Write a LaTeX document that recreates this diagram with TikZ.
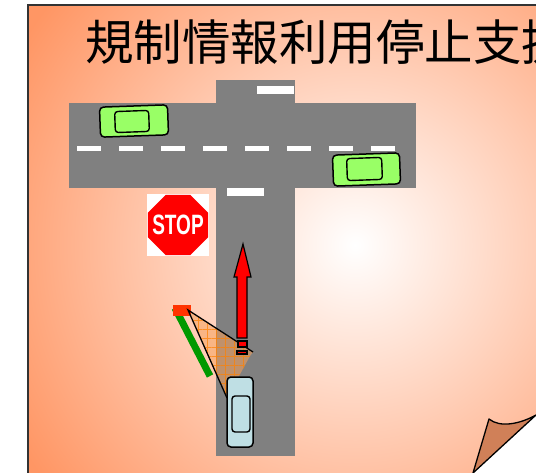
\documentclass[tikz,border=0pt]{standalone}
\usepackage{fontspec}
\newfontfamily\cjk{Noto Sans CJK JP}
\newfontfamily\signfont{Liberation Sans}
\usetikzlibrary{shapes.geometric,patterns.meta}
\definecolor{bgorange}{RGB}{255,150,100}
\definecolor{roadgray}{RGB}{128,128,128}
\definecolor{cargreen}{RGB}{153,255,102}
\definecolor{carblue}{RGB}{191,223,228}
\definecolor{stopred}{RGB}{255,0,0}
\definecolor{sensorred}{RGB}{255,51,0}
\definecolor{polegreen}{RGB}{0,153,0}
\definecolor{conefill}{RGB}{245,160,90}
\definecolor{curlbrown}{RGB}{208,128,88}

\begin{document}
\begin{tikzpicture}[x=1pt, y=-1pt,
    road/.style={fill=roadgray},
    lane/.style={fill=white},
    carbody/.style={draw, line width=1.5pt, rounded corners=4pt, inner sep=0pt},
    carglass/.style={draw, line width=1.4pt, rounded corners=3pt, inner sep=0pt},
    outline/.style={draw, line width=1.2pt}
]
\useasboundingbox (0,0) rectangle (536,473);

% panel with soft glow
\begin{scope}
\clip (28,5) rectangle (545,480);
\fill[bgorange] (28,5) rectangle (545,480);
\shade[inner color=white, outer color=bgorange] (355,245) circle (390pt);
\end{scope}
\draw[line width=1.5pt, black!80] (28,480) -- (28,5) -- (545,5);

\node[font=\cjk\fontsize{48.5}{48.5}\selectfont, anchor=west, inner sep=0pt] (title) at (85,42) {規制情報利用停止支援};

% crossroads
\fill[road] (69,103) rectangle (416,188);
\fill[road] (216,80) rectangle (295,456);
\foreach \x in {77,119,...,371}
    \fill[lane] (\x,146) rectangle ++(24,5);
\fill[lane] (257,86) rectangle (294,94);
\fill[lane] (227,188) rectangle (264,196);

% cars on the main road
\node[carbody, fill=cargreen, minimum width=68pt, minimum height=30pt, rotate=2] (carA) at (134,121) {};
\node[carglass, fill=cargreen, minimum width=34pt, minimum height=21pt, rotate=2] (carAglass) at (132,121.5) {};
\node[carbody, fill=cargreen, minimum width=67pt, minimum height=31pt, rotate=2] (carB) at (366.5,169.5) {};
\node[carglass, fill=cargreen, minimum width=35pt, minimum height=22pt, rotate=2] (carBglass) at (364.5,169) {};

% stop sign
\node[fill=white, minimum size=62pt, inner sep=0pt] (signbg) at (178,225) {};
\node[regular polygon, regular polygon sides=8, fill=stopred, minimum size=65pt, inner sep=0pt] (stop) at (178,225) {};
\node[text=white, inner sep=0pt, xscale=0.68,
      font=\signfont\bfseries\fontsize{28}{28}\selectfont] (stoptext) at (stop.center) {STOP};

% roadside sensor and its field of view
\coordinate (eye) at (188,310);
\coordinate (farR) at (253,352);
\coordinate (farL) at (227,398);
\fill[conefill, fill opacity=0.55] (eye) -- (farR) -- (250,356) -- (farL) -- cycle;
\fill[pattern={Hatch[angle=0, distance=9pt, line width=0.8pt]}, pattern color=orange, opacity=0.7]
    (eye) -- (farR) -- (250,356) -- (farL) -- cycle;
\draw[polegreen, line width=7pt] (175,308) -- (210,376);
\fill[sensorred] (173,305) rectangle (191,316);
\draw[line width=1.3pt] (farR) -- (eye) -- (farL);

% direction of travel
\draw[outline, fill=red, line join=miter]
    (243,244) -- (251,277) -- (247,277) -- (247,338) -- (237,338) -- (237,277) -- (234,277) -- cycle;
\draw[outline, fill=red] (238,341) rectangle (247,347);
\draw[outline, fill=red] (237,351) rectangle (247,354);

% own car
\node[carbody, fill=carblue, minimum width=26pt, minimum height=70pt] (ego) at (240,412) {};
\node[carglass, fill=carblue, minimum width=18pt, minimum height=36pt] (egoglass) at (241,414) {};

% curled corner
\fill[white] (473,473) -- (536,415) -- (540,415) -- (540,480) -- cycle;
\draw[line width=1.3pt, fill=curlbrown, line join=round]
    (473,473) -- (489,419) .. controls (500,428) and (520,424) .. (536,415) -- cycle;
\end{tikzpicture}
\end{document}
